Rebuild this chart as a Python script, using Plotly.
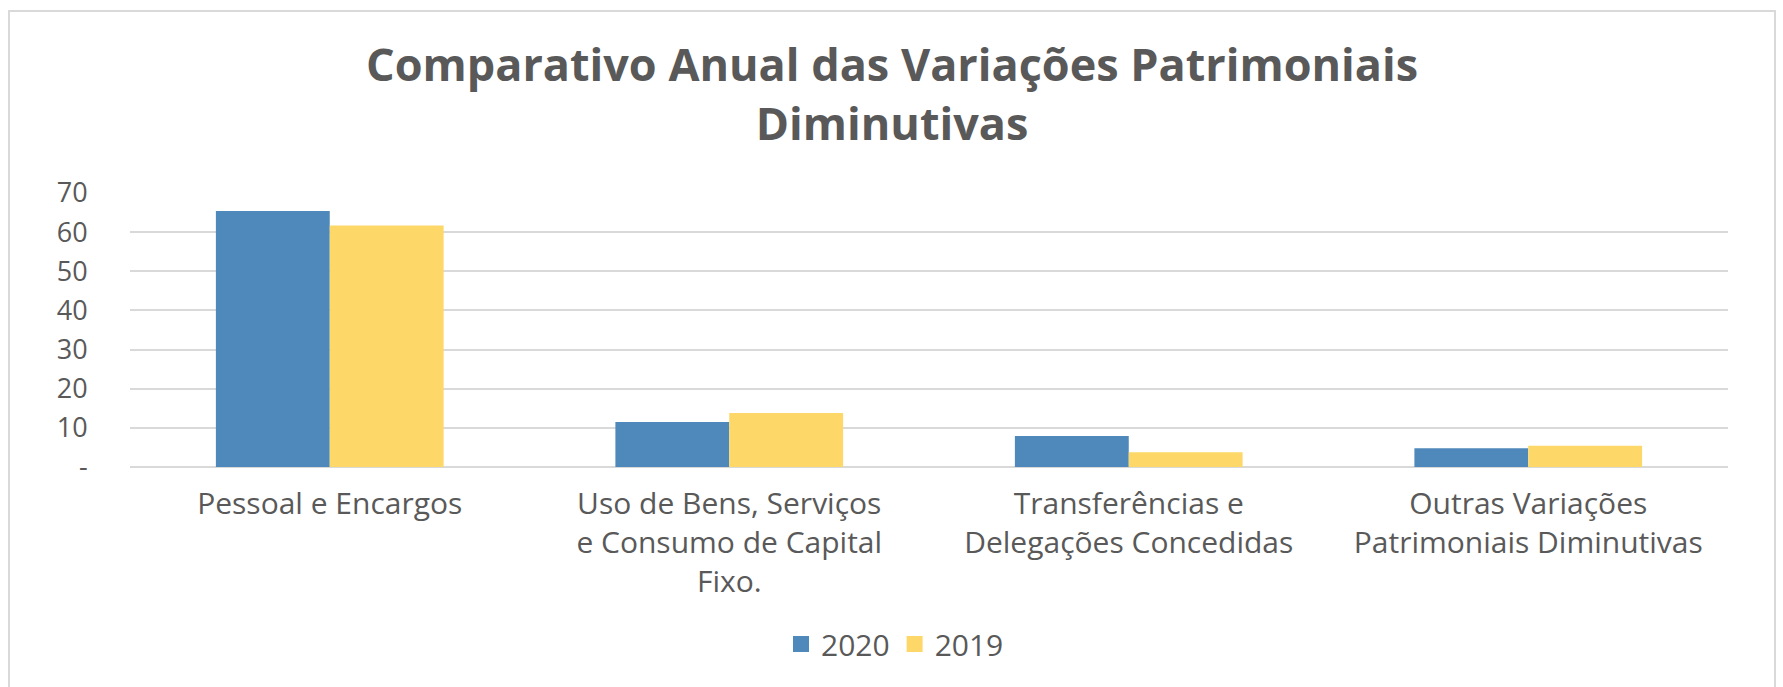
import plotly.graph_objects as go

categories = [
    "Pessoal e Encargos",
    "Uso de Bens, Serviços<br>e Consumo de Capital<br>Fixo.",
    "Transferências e<br>Delegações Concedidas",
    "Outras Variações<br>Patrimoniais Diminutivas",
]
series_names = ["2020", "2019"]
values_2020 = [65.4, 11.5, 7.9, 4.8]
values_2019 = [61.7, 13.8, 3.8, 5.4]
y_tick_vals = [0, 10, 20, 30, 40, 50, 60, 70]
y_tick_text = ["-", "10", "20", "30", "40", "50", "60", "70"]
colors = ["#4f89bb", "#fdd868"]

W, H = 1783, 687
L, R, T, B = 130, 1728, 193, 467
FONT = "Open Sans"
GREY = "#595959"

def px_x(x):
    return (x - L) / (R - L)

def px_y(y):
    return (B - y) / (B - T)

fig = go.Figure()
for name, vals, col in zip(series_names, [values_2020, values_2019], colors):
    fig.add_trace(go.Bar(name=name, x=categories, y=vals, showlegend=False,
                         marker=dict(color=col, line=dict(width=0))))
# legend entries with larger square swatches
for name, col in zip(series_names, colors):
    fig.add_trace(go.Scatter(name=name, x=[None], y=[None], mode="markers",
                             marker=dict(symbol="square", size=20, color=col),
                             showlegend=True))

fig.update_layout(
    width=W, height=H,
    margin=dict(l=L, r=W - R, t=T, b=H - B, autoexpand=False),
    paper_bgcolor="white", plot_bgcolor="white",
    barmode="group", bargap=0.43, bargroupgap=0,
    font=dict(family=FONT, color=GREY),
    showlegend=True,
    legend=dict(orientation="h", x=px_x(895), y=px_y(644),
                xanchor="center", yanchor="middle",
                font=dict(size=30, color=GREY, family=FONT),
                itemwidth=30, traceorder="normal"),
    xaxis=dict(showgrid=False, showline=False, zeroline=False,
               ticks="outside", ticklen=10, tickcolor="rgba(0,0,0,0)",
               tickfont=dict(size=30, color=GREY, family=FONT)),
    yaxis=dict(range=[0, 70], tickvals=y_tick_vals, ticktext=y_tick_text,
               showgrid=True, gridcolor="#d9d9d9", gridwidth=2,
               zeroline=True, zerolinecolor="#d9d9d9", zerolinewidth=2,
               showline=False, ticks="outside", ticklen=36,
               tickcolor="rgba(0,0,0,0)",
               tickfont=dict(size=27, color=GREY, family=FONT)),
    annotations=[dict(
        text="<b>Comparativo Anual das Variações Patrimoniais<br>Diminutivas</b>",
        xref="paper", yref="paper", x=px_x(892), y=px_y(93),
        xanchor="center", yanchor="middle", showarrow=False,
        font=dict(size=45, color=GREY, family=FONT), align="center")],
    shapes=[dict(type="rect", xref="paper", yref="paper",
                 x0=px_x(9), x1=px_x(1775), y0=px_y(11), y1=px_y(720),
                 line=dict(color="#d9d9d9", width=2), fillcolor="rgba(0,0,0,0)",
                 layer="below")],
)

fig.write_html("out.html")
